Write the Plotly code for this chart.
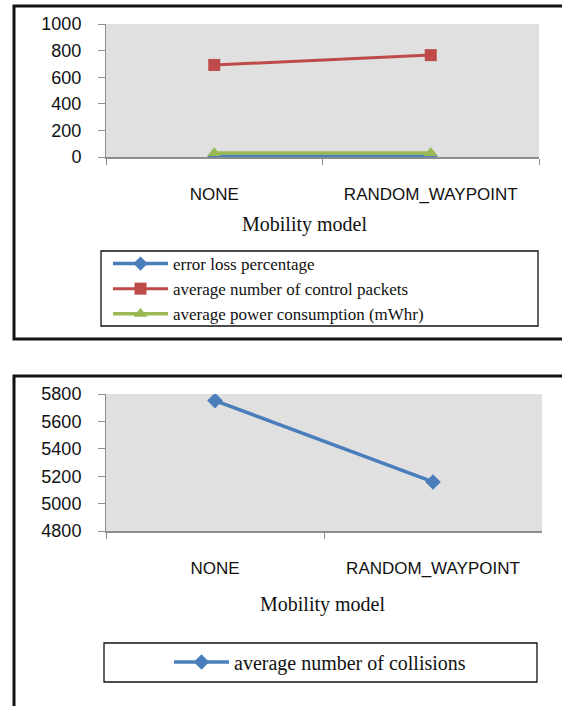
import plotly.graph_objects as go

# Mobility model categories
models = ["NONE", "RANDOM_WAYPOINT"]

# Upper chart series
error_loss_pct = [8, 8]
avg_control_packets = [692, 766]
avg_power_mwhr = [30, 30]

# Lower chart series
avg_collisions = [5752, 5158]

W, H = 562, 706


def fx(px):
    return px / W


def fy(py):
    return 1 - py / H


BLUE = "#4a7ebb"
RED = "#be4b48"
GREEN = "#98b954"
AXIS = "#8c8c8c"
SANS = "Liberation Sans"
SERIF = "Liberation Serif"

fig = go.Figure()

fig.add_trace(go.Scatter(
    x=models, y=error_loss_pct, name="error loss percentage",
    mode="lines+markers", line=dict(color=BLUE, width=3.5),
    marker=dict(symbol="diamond", size=11, color=BLUE),
    xaxis="x", yaxis="y", legend="legend"))
fig.add_trace(go.Scatter(
    x=models, y=avg_control_packets, name="average number of control packets",
    mode="lines+markers", line=dict(color=RED, width=3),
    marker=dict(symbol="square", size=12, color=RED),
    xaxis="x", yaxis="y", legend="legend"))
fig.add_trace(go.Scatter(
    x=models, y=avg_power_mwhr, name="average power consumption (mWhr)",
    mode="lines+markers", line=dict(color=GREEN, width=3.5),
    marker=dict(symbol="triangle-up", size=12, color=GREEN),
    xaxis="x", yaxis="y", legend="legend"))

fig.add_trace(go.Scatter(
    x=models, y=avg_collisions, name="average number of collisions",
    mode="lines+markers", line=dict(color=BLUE, width=3.5),
    marker=dict(symbol="diamond", size=12, color=BLUE),
    xaxis="x2", yaxis="y2", legend="legend2"))

xcommon = dict(
    type="category", range=[-0.5, 1.5], showline=True, linecolor=AXIS,
    linewidth=2, ticks="outside", tickson="boundaries", ticklen=6,
    tickcolor=AXIS, tickwidth=1, showgrid=False, zeroline=False,
    tickfont=dict(family=SANS, size=17, color="#111111"),
    ticklabelstandoff=21)
ycommon = dict(
    showline=True, linecolor=AXIS, linewidth=1, ticks="outside", ticklen=7,
    tickcolor=AXIS, tickwidth=1, showgrid=False, zeroline=False,
    dtick=200, tickfont=dict(family=SANS, size=18, color="#111111"),
    ticklabelstandoff=13)

legcommon = dict(
    bgcolor="rgba(0,0,0,0)", borderwidth=0, itemwidth=55,
    tracegroupgap=0, itemclick=False)

fig.update_layout(
    width=W, height=H,
    margin=dict(l=0, r=0, t=0, b=0, autoexpand=False),
    paper_bgcolor="white", plot_bgcolor="#e0e0e0",
    xaxis=dict(domain=[fx(106), fx(539)], anchor="y", **xcommon),
    yaxis=dict(domain=[fy(157), fy(24)], anchor="x", range=[0, 1000],
               **ycommon),
    xaxis2=dict(domain=[fx(106), fx(542)], anchor="y2", **xcommon),
    yaxis2=dict(domain=[fy(531), fy(394)], anchor="x2", range=[4800, 5800],
                **ycommon),
    legend=dict(x=fx(108), y=fy(246), xanchor="left", yanchor="top",
                font=dict(family=SERIF, size=17, color="#111111"),
                **legcommon),
    legend2=dict(x=fx(320), y=fy(662), xanchor="center", yanchor="middle",
                 font=dict(family=SERIF, size=20, color="#111111"),
                 **legcommon),
    showlegend=True,
)

# Axis titles
for xc, yc in [(304, 224), (322, 604)]:
    fig.add_annotation(text="Mobility model", x=fx(xc), y=fy(yc),
                       xref="paper", yref="paper", showarrow=False,
                       xanchor="center", yanchor="middle",
                       font=dict(family=SERIF, size=20, color="#111111"))

# Outer chart frames and legend frames
shapes = [
    dict(x0=fx(14), x1=fx(566), y0=fy(6), y1=fy(339), lw=3),
    dict(x0=fx(14), x1=fx(566), y0=fy(376), y1=fy(712), lw=3),
    dict(x0=fx(101), x1=fx(538), y0=fy(251), y1=fy(326), lw=1.3),
    dict(x0=fx(104), x1=fx(537), y0=fy(643), y1=fy(682), lw=1.3),
]
for s in shapes:
    fig.add_shape(type="rect", xref="paper", yref="paper",
                  x0=s["x0"], x1=s["x1"], y0=s["y0"], y1=s["y1"],
                  line=dict(color="#111111", width=s["lw"]),
                  fillcolor="rgba(0,0,0,0)", layer="above")

fig.write_html("out.html")
